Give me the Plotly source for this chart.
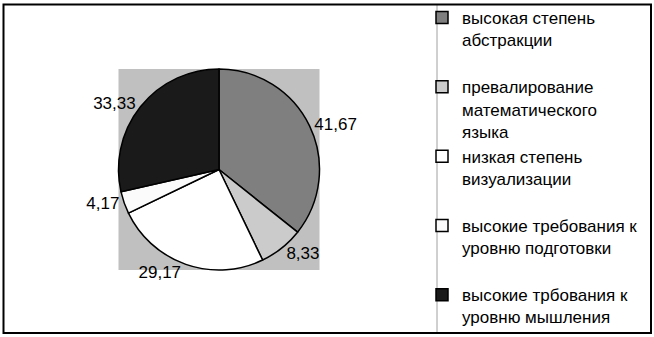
import plotly.graph_objects as go

labels = [
    "высокая степень<br>абстракции<br> ",
    "превалирование<br>математического<br>языка",
    "низкая степень<br>визуализации<br> ",
    "высокие требования к<br>уровню подготовки<br> ",
    "высокие трбования к<br>уровню мышления",
]
values = [41.67, 8.33, 29.17, 4.17, 33.33]
colors = ["#7f7f7f", "#cbcbcb", "#ffffff", "#fbfbfb", "#1a1a1a"]

W, H = 654, 337
cx, cy, r = 219, 169.5, 100.5

fig = go.Figure(go.Pie(
    labels=labels,
    values=values,
    sort=False,
    direction="clockwise",
    rotation=0,
    textposition="outside",
    texttemplate="%{value:.2f}",
    textfont=dict(family="Liberation Sans, Arial", size=17, color="#000000"),
    marker=dict(colors=colors, line=dict(color="#000000", width=1.5)),
    domain=dict(x=[(cx - r) / W, (cx + r) / W], y=[1 - (cy + r) / H, 1 - (cy - r) / H]),
    hoverinfo="skip",
))

fig.update_layout(
    width=W, height=H,
    margin=dict(l=0, r=0, t=0, b=0, autoexpand=False),
    paper_bgcolor="#ffffff",
    separators=", ",
    font=dict(family="Liberation Sans, Arial", size=17, color="#000000"),
    legend=dict(
        x=422 / W, y=1.0, xanchor="left", yanchor="top",
        valign="top", bgcolor="rgba(0,0,0,0)", borderwidth=0,
        font=dict(family="Liberation Sans, Arial", size=17, color="#000000"),
    ),
    shapes=[
        dict(type="rect", xref="paper", yref="paper", layer="below",
             x0=(cx - r) / W, x1=(cx + r) / W, y0=1 - (cy + r) / H, y1=1 - (cy - r) / H,
             fillcolor="#c0c0c0", line=dict(width=0)),
        dict(type="line", xref="paper", yref="paper",
             x0=437 / W, x1=437 / W, y0=1 - 333 / H, y1=1 - 4.5 / H,
             line=dict(color="#a0a0a0", width=1)),
        dict(type="rect", xref="paper", yref="paper",
             x0=3.5 / W, x1=651 / W, y0=1 - 333 / H, y1=1 - 4.5 / H,
             line=dict(color="#000000", width=2)),
    ],
)

fig.write_html(
    "out.html",
    config={"displayModeBar": False},
    post_script="document.body.style.margin='0';document.body.style.padding='0';",
)
